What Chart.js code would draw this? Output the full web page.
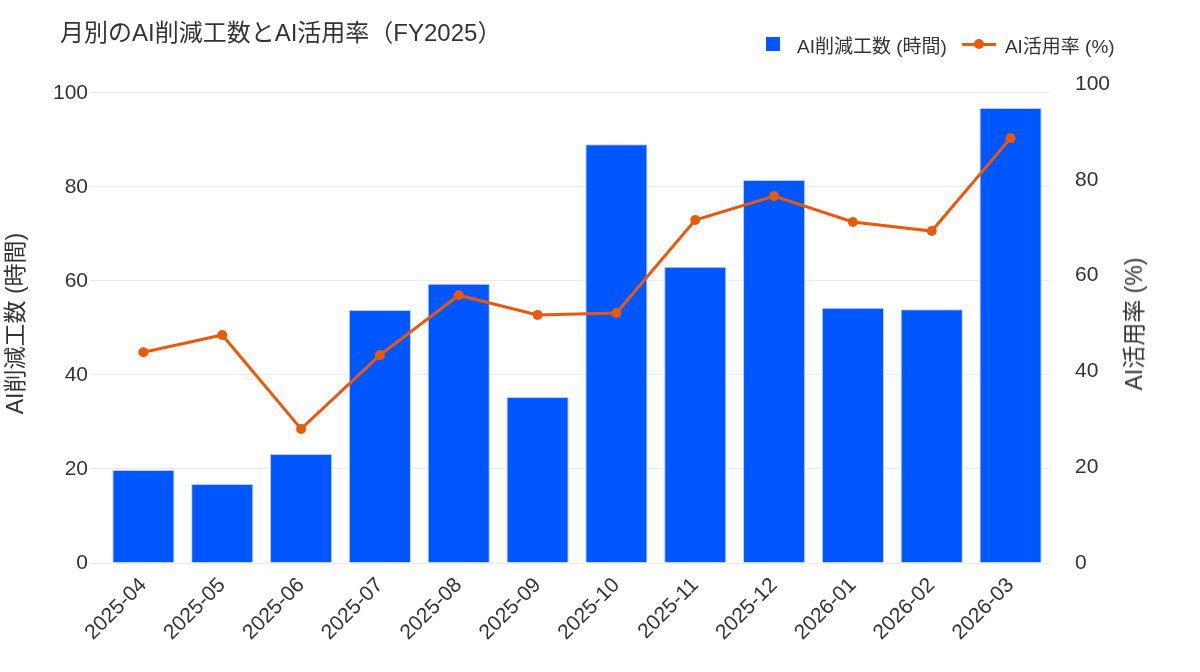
<!DOCTYPE html>
<html lang="ja">
<head>
<meta charset="utf-8">
<title>月別のAI削減工数とAI活用率（FY2025）</title>
<script src="https://cdn.jsdelivr.net/npm/chart.js@4/dist/chart.umd.min.js"></script>
<style>
    html, body { margin: 0; padding: 0; background: #ffffff; }
    body { font-family: "Liberation Sans", "Noto Sans CJK JP", sans-serif; color: #333333; }
    #wrap { width: 1200px; height: 672px; position: relative; overflow: hidden; }
    #mainChart { position: absolute; left: 0; top: 0; }
    .chart-title {
        position: absolute; left: 60px; top: 17px;
        font-size: 24px; line-height: 32px; white-space: nowrap;
    }
    .legend {
        position: absolute; left: 766px; top: 32px; height: 24px;
        display: flex; align-items: center; font-size: 19px; white-space: nowrap;
    }
    .legend .box { width: 14px; height: 14px; margin-right: 17px; }
    .legend .line-mark { width: 34px; height: 12px; margin-left: 15px; margin-right: 9px; position: relative; }
    .legend .line-mark::before {
        content: ''; position: absolute; left: 0; right: 0; top: 4.5px; height: 3px; background: currentColor;
    }
    .legend .line-mark::after {
        content: ''; position: absolute; left: 12px; top: 1px; width: 10px; height: 10px;
        border-radius: 50%; background: currentColor;
    }
    .axis-title-right {
        position: absolute; left: 1132px; top: 324px;
        transform: translate(-50%, -50%) rotate(-90deg);
        font-size: 23px; white-space: nowrap;
    }
</style>
</head>
<body>
<div id="wrap">
    <canvas id="mainChart" width="1200" height="672"></canvas>
    <div class="chart-title" id="chartTitle"></div>
    <div class="legend" id="legend"></div>
    <div class="axis-title-right" id="rightTitle"></div>
</div>
<script>
// Data
const months = ['2025-04', '2025-05', '2025-06', '2025-07', '2025-08', '2025-09',
                '2025-10', '2025-11', '2025-12', '2026-01', '2026-02', '2026-03'];
const savedHours = [19.8, 16.8, 23.2, 53.8, 59.4, 35.3, 89.1, 63.0, 81.5, 54.3, 54.0, 96.8];
const usageRate = [44.0, 47.6, 28.0, 43.4, 55.9, 51.8, 52.2, 71.6, 76.6, 71.2, 69.3, 88.7];

const chartTitle = '月別のAI削減工数とAI活用率（FY2025）';
const hoursLabel = 'AI削減工数 (時間)';
const rateLabel = 'AI活用率 (%)';

const BAR_COLOR = '#0057ff';
const LINE_COLOR = '#e8590c';
const TEXT_COLOR = '#333333';
const FONT = '"Liberation Sans", "Noto Sans CJK JP", sans-serif';

// Title, legend and right axis title as HTML
function buildLabels() {
    document.getElementById('chartTitle').textContent = chartTitle;
    document.getElementById('rightTitle').textContent = rateLabel;

    const legend = document.getElementById('legend');
    legend.innerHTML =
        `<span class="box" style="background:${BAR_COLOR}"></span>` +
        `<span>${hoursLabel}</span>` +
        `<span class="line-mark" style="color:${LINE_COLOR}"></span>` +
        `<span>${rateLabel}</span>`;
}

function initChart() {
    const ctx = document.getElementById('mainChart').getContext('2d');

    new Chart(ctx, {
        type: 'bar',
        data: {
            labels: months,
            datasets: [{
                type: 'line',
                label: rateLabel,
                data: usageRate,
                yAxisID: 'yRate',
                borderColor: LINE_COLOR,
                backgroundColor: LINE_COLOR,
                borderWidth: 3,
                pointRadius: 5,
                pointBackgroundColor: LINE_COLOR,
                pointBorderWidth: 0,
                tension: 0,
                order: 1
            }, {
                type: 'bar',
                label: hoursLabel,
                data: savedHours,
                yAxisID: 'yHours',
                backgroundColor: BAR_COLOR,
                borderColor: 'rgba(170, 200, 255, 0.9)',
                borderWidth: 1,
                barPercentage: 0.985,
                categoryPercentage: 0.8,
                order: 2
            }]
        },
        options: {
            responsive: false,
            animation: false,
            layout: {
                padding: { left: 3, right: 0, top: 84, bottom: 0 }
            },
            plugins: {
                title: { display: false },
                legend: { display: false },
                tooltip: { enabled: false }
            },
            scales: {
                x: {
                    ticks: {
                        color: TEXT_COLOR,
                        font: { family: FONT, size: 21 },
                        maxRotation: 45,
                        minRotation: 45,
                        padding: 2,
                        labelOffset: 0
                    },
                    grid: { display: false },
                    border: { display: false },
                    afterFit: (scale) => { scale.height = 109; }
                },
                yHours: {
                    position: 'left',
                    min: 0,
                    max: 101.9,
                    ticks: {
                        stepSize: 20,
                        includeBounds: false,
                        color: TEXT_COLOR,
                        font: { family: FONT, size: 21 },
                        padding: 2
                    },
                    grid: {
                        color: '#ebebeb',
                        lineWidth: 1,
                        tickLength: 14
                    },
                    border: { display: false },
                    title: {
                        display: true,
                        text: hoursLabel,
                        color: TEXT_COLOR,
                        font: { family: FONT, size: 23 },
                        padding: { top: 0, bottom: 0 }
                    },
                    afterFit: (scale) => { scale.width = 101; }
                },
                yRate: {
                    position: 'right',
                    min: 0,
                    max: 100,
                    ticks: {
                        stepSize: 20,
                        color: TEXT_COLOR,
                        font: { family: FONT, size: 21 },
                        padding: 17
                    },
                    grid: { display: false },
                    border: { display: false },
                    afterFit: (scale) => { scale.width = 150; }
                }
            }
        }
    });
}

buildLabels();
initChart();
</script>
</body>
</html>
